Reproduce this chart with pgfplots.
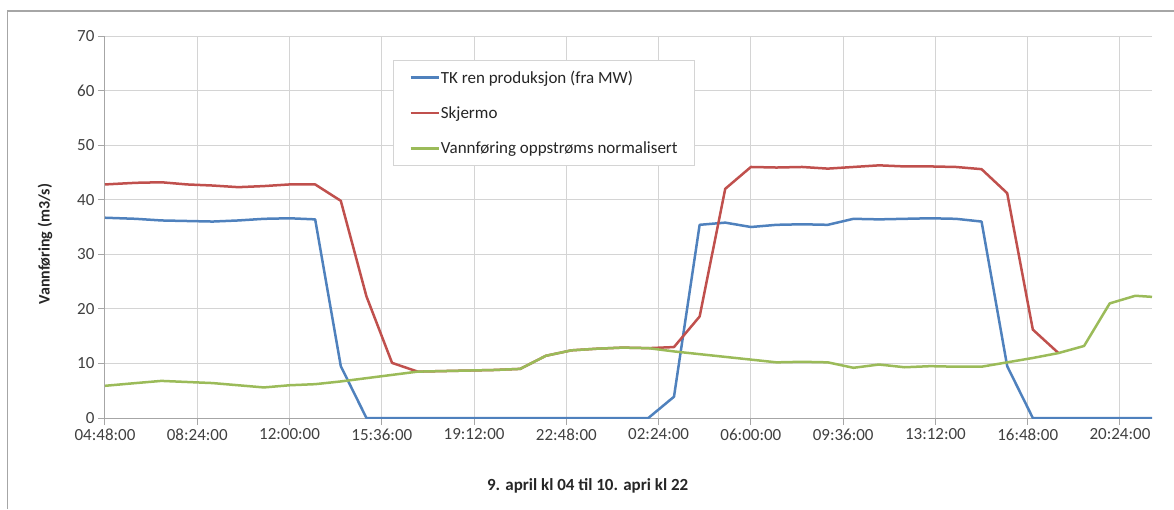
\documentclass[border=0pt]{standalone}
\usepackage{fontspec}
\setmainfont{Carlito}
\usepackage{pgfplots}
\pgfplotsset{compat=1.18}
\definecolor{tkblue}{HTML}{4F81BD}
\definecolor{skred}{HTML}{C0504D}
\definecolor{vgreen}{HTML}{9BBB59}
\definecolor{gridc}{HTML}{D4D4D4}
\definecolor{axc}{HTML}{A6A6A6}
\definecolor{txt}{HTML}{404040}
\begin{document}
\begin{tikzpicture}
\begin{axis}[
  at={(0pt,0pt)}, anchor=south west,
  scale only axis, width=1047pt, height=382pt,
  xmin=4.8, xmax=45.65, ymin=0, ymax=70,
  xtick={4.8,8.4,12,15.6,19.2,22.8,26.4,30,33.6,37.2,40.8,44.4},
  xticklabels={04:48:00,08:24:00,12:00:00,15:36:00,19:12:00,22:48:00,02:24:00,06:00:00,09:36:00,13:12:00,16:48:00,20:24:00},
  ytick={0,10,...,70},
  grid=major, major grid style={gridc, line width=1pt},
  axis x line=bottom, axis y line=left,
  axis line style={-, axc, line width=1pt},
  tick align=outside, major tick length=7pt, tick style={axc, line width=1pt},
  ticklabel style={font=\fontsize{17}{20}\selectfont, text=txt},
  /pgf/number format/assume math mode=true,
  xlabel={9. april kl 04 til 10. apri kl 22},
  xlabel style={at={(axis description cs:0.461,0)}, anchor=center, yshift=-68pt, font=\bfseries\fontsize{17}{20}\selectfont, text=black!85},
  ylabel={Vannføring (m3/s)},
  ylabel style={at={(axis description cs:-0.0573,0.455)}, anchor=center, font=\bfseries\fontsize{16}{18}\selectfont, text=black!85},
  legend style={at={(axis description cs:0.275,0.937)}, anchor=north west, draw=gridc, fill=white, line width=1pt,
    inner xsep=16pt, inner ysep=9pt, font=\fontsize{17}{19}\selectfont, text=black!85,
    row sep=20pt, nodes={inner sep=1pt}},
  legend cell align=left,
  legend image code/.code={\draw[#1] (0pt,0pt) -- (28pt,0pt);},
  every axis plot/.append style={line width=2.5pt, line join=round},
]
\addplot[tkblue] coordinates {
(4.8,36.7) (6,36.5) (7,36.2) (8,36.1) (9,36.0) (10,36.2) (11,36.5) (12,36.6) (13,36.4)
(14,9.5) (15,0) (16,0) (17,0) (18,0) (19,0) (20,0) (21,0) (22,0) (23,0) (24,0) (25,0) (26,0)
(27,3.9) (28,35.4) (29,35.8) (30,35.0) (31,35.4) (32,35.5) (33,35.4) (34,36.5) (35,36.4)
(36,36.5) (37,36.6) (38,36.5) (39,36.0) (40,9.5) (41,0) (42,0) (43,0) (44,0) (45,0) (45.65,0)};
\addlegendentry{TK ren produksjon (fra MW)}
\addplot[skred] coordinates {
(4.8,42.8) (6,43.1) (7,43.2) (8,42.8) (9,42.6) (10,42.3) (11,42.5) (12,42.8) (13,42.8)
(14,39.8) (15,22.3) (16,10.1) (17,8.5) (18,8.6) (19,8.7) (20,8.8) (21,9.0) (22,11.4) (23,12.4)
(24,12.7) (25,12.9) (26,12.8) (27,13.0) (28,18.6) (29,42.0) (30,46.0) (31,45.9) (32,46.0)
(33,45.7) (34,46.0) (35,46.3) (36,46.1) (37,46.1) (38,46.0) (39,45.6) (40,41.2) (41,16.2) (42,11.9)};
\addlegendentry{Skjermo}
\addplot[vgreen] coordinates {
(4.8,5.9) (6,6.4) (7,6.8) (8,6.6) (9,6.4) (10,6.0) (11,5.6) (12,6.0) (13,6.2) (14,6.7)
(15,7.3) (16,7.9) (17,8.5) (18,8.6) (19,8.7) (20,8.8) (21,9.0) (22,11.4) (23,12.4) (24,12.7)
(25,12.9) (26,12.8) (27,12.2) (28,11.7) (29,11.2) (30,10.7) (31,10.2) (32,10.3) (33,10.2)
(34,9.2) (35,9.8) (36,9.3) (37,9.5) (38,9.4) (39,9.4) (40,10.2) (41,11.0) (42,11.9) (43,13.2)
(44,21.0) (45,22.4) (45.65,22.2)};
\addlegendentry{Vannføring oppstrøms normalisert}
\end{axis}
\draw[axc, line width=1.2pt] (-97.5pt,-91pt) -- (-97.5pt,407pt) -- (1069pt,407pt);
\pgfresetboundingbox
\path[use as bounding box] (-105pt,-91pt) rectangle (1069pt,418pt);
\end{tikzpicture}
\end{document}
